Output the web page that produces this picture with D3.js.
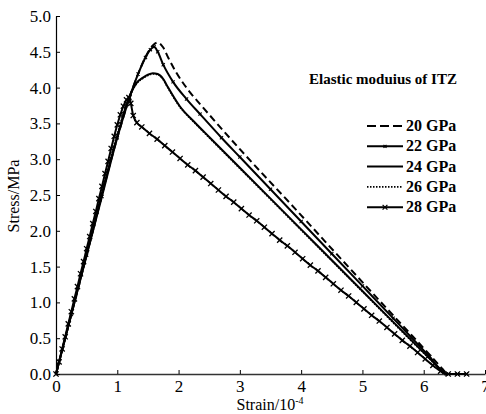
<!DOCTYPE html>
<html lang="en">
<head>
  <meta charset="utf-8">
  <title>Stress-strain curves</title>
  <style>
    body { margin: 0; padding: 0; background: #fff; }
    svg { display: block; }
  </style>
</head>
<body>
  <div id="my_dataviz"></div>
  <script src="https://d3js.org/d3.v7.min.js"></script>
  <script>
    // series values: [strain (1e-4), stress (MPa)]
    var e20 = [[0, 0], [0.5, 1.66], [1.0, 3.30], [1.2, 3.86], [1.34, 4.19], [1.48, 4.46], [1.58, 4.59],
      [1.66, 4.63], [1.75, 4.56], [1.83, 4.42], [1.97, 4.20], [2.19, 3.93], [2.35, 3.77], [3.0, 3.14],
      [3.9, 2.31], [4.82, 1.45], [5.5, 0.82], [6.0, 0.36], [6.38, 0]];
    var e22 = [[0, 0], [0.25, 0.83], [0.5, 1.66], [0.75, 2.48], [1.0, 3.30], [1.2, 3.86], [1.34, 4.19],
      [1.46, 4.42], [1.54, 4.53], [1.60, 4.57], [1.66, 4.50], [1.75, 4.32], [1.91, 4.08], [2.13, 3.84],
      [2.35, 3.63], [2.7, 3.30], [3.0, 3.03], [3.5, 2.58], [4.0, 2.13], [4.5, 1.68], [5.0, 1.23],
      [5.5, 0.78], [5.8, 0.51], [6.1, 0.24], [6.37, 0], [6.55, 0], [6.7, 0]];
    var e24 = [[0, 0], [0.5, 1.67], [1.0, 3.32], [1.2, 3.88], [1.32, 4.07], [1.42, 4.14], [1.50, 4.18],
      [1.58, 4.20], [1.66, 4.19], [1.75, 4.12], [1.81, 4.03], [2.02, 3.74], [2.27, 3.51], [2.5, 3.31],
      [3.0, 2.88], [4.0, 2.02], [5.0, 1.16], [5.8, 0.47], [6.35, 0]];
    var e26 = [[0, 0], [0.5, 1.68], [1.0, 3.35], [1.2, 3.88], [1.32, 4.06], [1.42, 4.13], [1.50, 4.17],
      [1.58, 4.19], [1.66, 4.18], [1.75, 4.11], [1.81, 4.02], [2.02, 3.73], [2.27, 3.50], [2.5, 3.30],
      [3.0, 2.87], [4.0, 2.01], [5.0, 1.15], [5.8, 0.46], [6.35, 0]];
    var e28 = [[0, 0], [0.05, 0.17], [0.1, 0.35], [0.15, 0.52], [0.2, 0.70], [0.25, 0.87], [0.3, 1.05],
      [0.35, 1.22], [0.4, 1.40], [0.45, 1.57], [0.5, 1.75], [0.55, 1.92], [0.6, 2.10], [0.65, 2.27],
      [0.7, 2.45], [0.75, 2.62], [0.8, 2.80], [0.85, 2.97], [0.9, 3.15], [0.95, 3.32], [1.0, 3.48],
      [1.05, 3.62], [1.1, 3.74], [1.15, 3.83], [1.19, 3.86], [1.22, 3.78], [1.26, 3.61], [1.32, 3.51],
      [1.40, 3.45], [1.525, 3.36], [1.65, 3.28], [1.775, 3.19], [1.90, 3.10], [2.025, 3.01], [2.15, 2.92],
      [2.275, 2.84], [2.40, 2.75], [2.525, 2.66], [2.65, 2.57], [2.775, 2.48], [2.90, 2.40], [3.025, 2.31],
      [3.15, 2.22], [3.275, 2.14], [3.40, 2.05], [3.525, 1.96], [3.65, 1.87], [3.775, 1.79], [3.90, 1.70],
      [4.025, 1.61], [4.15, 1.52], [4.275, 1.44], [4.40, 1.35], [4.525, 1.26], [4.65, 1.17], [4.775, 1.09],
      [4.90, 1.00], [5.025, 0.91], [5.15, 0.82], [5.275, 0.74], [5.40, 0.65], [5.525, 0.56], [5.65, 0.47],
      [5.775, 0.39], [5.90, 0.30], [6.025, 0.21], [6.15, 0.12], [6.275, 0.04], [6.40, 0], [6.55, 0], [6.70, 0]];

    var legendLabels = ["20 GPa", "22 GPa", "24 GPa", "26 GPa", "28 GPa"];
    var xTicks = [0, 1, 2, 3, 4, 5, 6, 7];
    var yTicks = [0, 0.5, 1.0, 1.5, 2.0, 2.5, 3.0, 3.5, 4.0, 4.5, 5.0];

    var serif = "'Liberation Serif', 'Times New Roman', 'DejaVu Serif', serif";
    var width = 486, height = 414;

    var svg = d3.select("#my_dataviz")
      .append("svg")
      .attr("width", width)
      .attr("height", height)
      .style("font-family", serif);

    var x = d3.scaleLinear().domain([0, 7]).range([56, 485]);
    var y = d3.scaleLinear().domain([0, 5]).range([374, 16]);

    // axes, ticks pointing inward
    var xAxis = svg.append("g")
      .attr("transform", "translate(0," + y(0) + ")")
      .call(d3.axisBottom(x).tickValues(xTicks).tickFormat(d3.format("d"))
        .tickSizeInner(-4).tickSizeOuter(0).tickPadding(6));
    xAxis.attr("font-family", serif).selectAll("text").style("font-size", "17px");
    xAxis.select(".domain").attr("stroke", "#333").attr("stroke-width", 1.4);

    var yAxis = svg.append("g")
      .attr("transform", "translate(" + x(0) + ",0)")
      .call(d3.axisLeft(y).tickValues(yTicks).tickFormat(d3.format(".1f"))
        .tickSizeInner(-4).tickSizeOuter(0).tickPadding(5));
    yAxis.attr("font-family", serif).selectAll("text").style("font-size", "17px");
    yAxis.select(".domain").attr("stroke", "#000").attr("stroke-width", 1.2);

    // axis titles
    var xt = svg.append("text")
      .attr("x", 270)
      .attr("y", 410)
      .attr("text-anchor", "middle")
      .style("font-size", "16px");
    xt.append("tspan").text("Strain/10");
    xt.append("tspan").attr("dy", "-6").style("font-size", "10px").text("-4");

    svg.append("text")
      .attr("transform", "translate(19,196) rotate(-90)")
      .attr("text-anchor", "middle")
      .style("font-size", "16px")
      .text("Stress/MPa");

    var line = d3.line()
      .curve(d3.curveMonotoneX)
      .x(function (d) { return x(d[0]); })
      .y(function (d) { return y(d[1]); });

    var series = [
      { data: e20, dash: "7,4", width: 2 },
      { data: e22, dash: null, width: 2 },
      { data: e24, dash: null, width: 2 },
      { data: e26, dash: "1.5,1.5", width: 1.6 },
      { data: e28, dash: null, width: 2 }
    ];

    svg.append("g")
      .selectAll("path")
      .data(series)
      .enter()
      .append("path")
      .attr("d", function (d) { return line(d.data); })
      .attr("fill", "none")
      .attr("stroke", "#000")
      .attr("stroke-width", function (d) { return d.width; })
      .attr("stroke-dasharray", function (d) { return d.dash; });

    // small x markers on 28 GPa, small ticks on 22 GPa
    function cross(s) {
      return "M" + (-s) + "," + (-s) + "L" + s + "," + s + "M" + (-s) + "," + s + "L" + s + "," + (-s);
    }
    svg.append("g")
      .selectAll("path")
      .data(e28)
      .enter()
      .append("path")
      .attr("transform", function (d) { return "translate(" + x(d[0]) + "," + y(d[1]) + ")"; })
      .attr("d", cross(2.6))
      .attr("stroke", "#000")
      .attr("stroke-width", 1.3);

    svg.append("g")
      .selectAll("path")
      .data(e22)
      .enter()
      .append("path")
      .attr("transform", function (d) { return "translate(" + x(d[0]) + "," + y(d[1]) + ")"; })
      .attr("d", cross(1.6))
      .attr("stroke", "#000")
      .attr("stroke-width", 1.1);

    // legend
    svg.append("text")
      .attr("x", 309)
      .attr("y", 84)
      .style("font-size", "15px")
      .style("font-weight", "bold")
      .text("Elastic moduius of ITZ");

    var leg = svg.append("g")
      .selectAll("g")
      .data(series)
      .enter()
      .append("g")
      .attr("transform", function (d, i) { return "translate(0," + (126 + i * 20.3) + ")"; });

    leg.append("line")
      .attr("x1", 367).attr("x2", 403)
      .attr("stroke", "#000")
      .attr("stroke-width", function (d) { return d.width; })
      .attr("stroke-dasharray", function (d, i) { return i === 0 ? "9,4" : d.dash; });

    leg.filter(function (d, i) { return i === 1 || i === 4; })
      .append("path")
      .attr("transform", "translate(385,0)")
      .attr("d", function (d, i) { return cross(i === 0 ? 1.5 : 2.4); })
      .attr("stroke", "#000")
      .attr("stroke-width", 1.2);

    leg.append("text")
      .attr("x", 406)
      .attr("y", 5)
      .style("font-size", "16px")
      .style("font-weight", "bold")
      .text(function (d, i) { return legendLabels[i]; });
  </script>
</body>
</html>
